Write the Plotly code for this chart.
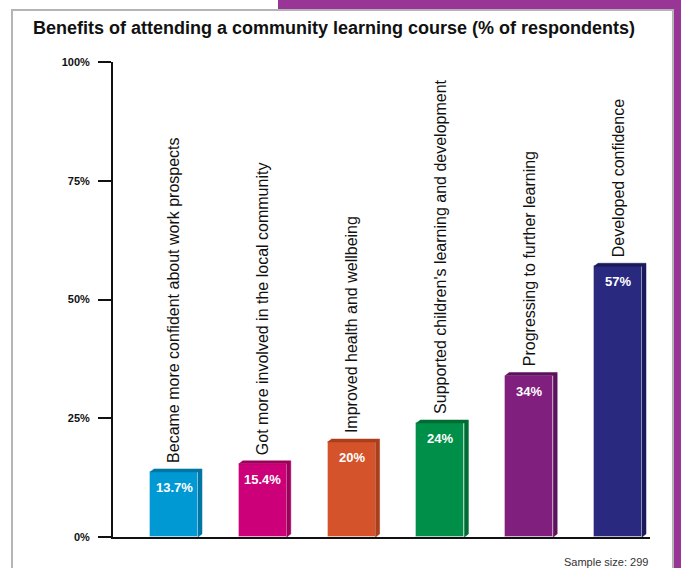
import plotly.graph_objects as go

# ---- data ----
categories = [
    "Became more confident about work prospects",
    "Got more involved in the local community",
    "Improved health and wellbeing",
    "Supported children's learning and development",
    "Progressing to further learning",
    "Developed confidence",
]
values = [13.7, 15.4, 20, 24, 34, 57]
value_labels = ["13.7%", "15.4%", "20%", "24%", "34%", "57%"]
tick_vals = [0, 25, 50, 75, 100]
tick_text = ["0%", "25%", "50%", "75%", "100%"]
front_colors = ["#0099d4", "#cc0078", "#d5532a", "#008f48", "#801f7e", "#29297f"]
side_colors = ["#0076a6", "#9e005c", "#ab3f1d", "#006c35", "#5e125d", "#1b1b5c"]

W, H = 681, 568
L, R, T, B = 113, 31, 62, 31
pw, ph = W - L - R, H - T - B
xr = [-0.687, 5.36]
yr = [0, 100]
px_x = pw / (xr[1] - xr[0])
px_y = ph / (yr[1] - yr[0])
bw = 0.54
dx = 4 / px_x
dy = 3 / px_y

fig = go.Figure()

xs = list(range(len(values)))
fig.add_trace(go.Bar(
    x=xs, y=values, width=bw,
    marker=dict(color=front_colors, line=dict(color="rgba(255,255,255,0.35)", width=1)),
    hoverinfo="skip", showlegend=False,
))

for i, v in enumerate(values):
    x0, x1 = i - bw / 2, i + bw / 2
    fig.add_trace(go.Scatter(
        x=[x0, x0 + dx, x1 + dx, x1 + dx, x1, x1, x0],
        y=[v, v + dy, v + dy, dy, 0, v, v],
        fill="toself", fillcolor=side_colors[i], mode="lines",
        line=dict(width=0.5, color=side_colors[i]),
        hoverinfo="skip", showlegend=False,
    ))

for i, (v, c, lab) in enumerate(zip(values, categories, value_labels)):
    fig.add_annotation(
        x=i, y=v, text=c, textangle=-90, showarrow=False,
        xanchor="center", yanchor="bottom", yshift=7,
        font=dict(family="Liberation Sans, Arial, sans-serif", size=16, color="#111"),
    )
    fig.add_annotation(
        x=i, y=v, text="<b>" + lab + "</b>", showarrow=False,
        xanchor="center", yanchor="top", yshift=-6,
        font=dict(family="Liberation Sans Narrow, Liberation Sans, Arial, sans-serif", size=13, color="white"),
    )


def pxx(p):
    return (p - L) / pw


def pxy(p):
    return (H - B - p) / ph


fig.add_annotation(
    xref="paper", yref="paper", x=pxx(650), y=pxy(562),
    text="Sample size: 299", showarrow=False, xanchor="right", yanchor="middle",
    font=dict(family="Liberation Sans, Arial, sans-serif", size=11, color="#333"),
)

shapes = [
    dict(type="rect", xref="paper", yref="paper", x0=pxx(278), x1=pxx(690), y0=pxy(10.5), y1=pxy(-5),
         fillcolor="#983596", line=dict(width=0), layer="below"),
    dict(type="rect", xref="paper", yref="paper", x0=pxx(674), x1=pxx(690), y0=pxy(580), y1=pxy(-5),
         fillcolor="#983596", line=dict(width=0), layer="below"),
    dict(type="rect", xref="paper", yref="paper", x0=pxx(12), x1=pxx(673), y0=pxy(600), y1=pxy(10),
         fillcolor="white", line=dict(color="#b4b4b4", width=2), layer="below"),
]

fig.update_layout(
    width=W, height=H,
    margin=dict(l=L, r=R, t=T, b=B, pad=0),
    paper_bgcolor="white", plot_bgcolor="#f0f0f0",
    shapes=shapes,
    title=dict(
        text="<b>Benefits of attending a community learning course (% of respondents)</b>",
        xref="container", yref="container", x=33 / W, xanchor="left",
        y=1 - 28 / H, yanchor="middle",
        font=dict(family="Liberation Sans, Arial, sans-serif", size=18, color="#111"),
    ),
    bargap=0,
)
fig.update_xaxes(range=xr, showticklabels=False, showgrid=False, zeroline=False,
                 showline=True, linecolor="#111", linewidth=2, ticks="")
fig.update_yaxes(range=yr, tickvals=tick_vals, ticktext=tick_text, showgrid=False, zeroline=False,
                 showline=True, linecolor="#111", linewidth=2, ticks="outside", ticklen=13,
                 tickwidth=2, tickcolor="#111", ticklabelstandoff=6,
                 tickfont=dict(family="Liberation Sans, Arial, sans-serif", size=11, color="#111", weight="bold"))

fig.write_html("out.html", config={"displayModeBar": False},
               post_script="document.body.style.margin='0';document.body.style.overflow='hidden';")
